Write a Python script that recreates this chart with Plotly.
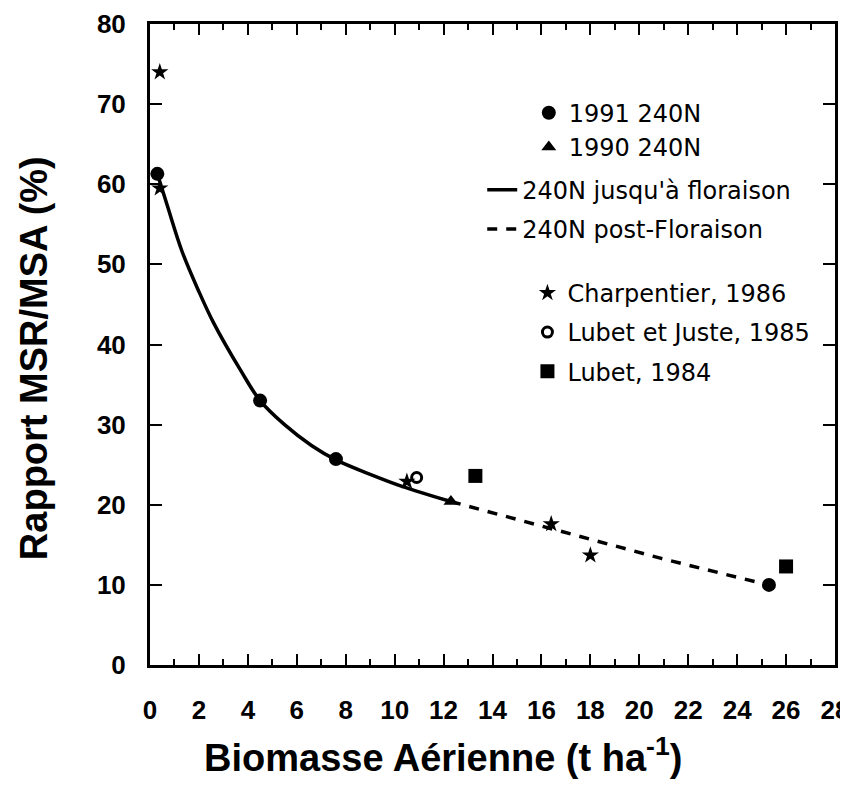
import plotly.graph_objects as go

# 1991 240N (circles)
x_1991 = [0.3, 4.5, 7.6, 25.3]
y_1991 = [61.3, 33.0, 25.7, 10.0]
# 1990 240N (triangles)
x_1990 = [12.3]
y_1990 = [20.4]
# 240N up to flowering (solid curve)
x_pre = [0.3, 0.7, 1.3, 2.0, 2.6, 3.7, 4.5, 5.5, 6.6, 7.6, 9.0, 10.3, 12.3]
y_pre = [61.3, 57.4, 51.7, 46.6, 42.7, 36.8, 33.0, 30.0, 27.4, 25.6, 23.8, 22.3, 20.4]
# 240N post-flowering (dashed)
x_post = [12.3, 14.5, 17.1, 20.9, 24.2, 25.3]
y_post = [20.4, 18.6, 16.5, 13.3, 10.8, 10.0]
# literature
x_charp = [0.4, 0.4, 10.5, 16.4, 18.0]
y_charp = [74.0, 59.5, 22.9, 17.6, 13.7]
x_lj = [10.9]
y_lj = [23.4]
x_lubet = [13.3, 26.0]
y_lubet = [23.6, 12.3]

fig = go.Figure()

fig.add_trace(go.Scatter(x=x_pre, y=y_pre, mode='lines', line=dict(color='black', width=3.5, shape='spline'),
                         name="240N jusqu'à floraison", legend='legend2', legendgroup='c'))
fig.add_trace(go.Scatter(x=x_post, y=y_post, mode='lines', line=dict(color='black', width=3.5, dash='10px,9px'),
                         name='240N post-Floraison', legend='legend2', legendgroup='d'))
fig.add_trace(go.Scatter(x=x_1991, y=y_1991, mode='markers', marker=dict(symbol='circle', size=14, color='black'),
                         name='1991 240N', legend='legend', legendgroup='a'))
fig.add_trace(go.Scatter(x=x_1990, y=y_1990, mode='markers', marker=dict(symbol='triangle-up', size=13, color='black'),
                         name='1990 240N', legend='legend', legendgroup='b'))
fig.add_trace(go.Scatter(x=x_charp, y=y_charp, mode='markers', marker=dict(symbol='star', size=13, color='black'),
                         name='Charpentier, 1986', legend='legend3', legendgroup='e'))
fig.add_trace(go.Scatter(x=x_lj, y=y_lj, mode='markers',
                         marker=dict(symbol='circle-open', size=10, color='black', line=dict(width=3)),
                         name='Lubet et Juste, 1985', legend='legend3', legendgroup='f'))
fig.add_trace(go.Scatter(x=x_lubet, y=y_lubet, mode='markers', marker=dict(symbol='square', size=14, color='black'),
                         name='Lubet, 1984', legend='legend3', legendgroup='g'))

legend_font = dict(family='DejaVu Sans', size=24, color='black')
leg_common = dict(font=legend_font, bgcolor='rgba(0,0,0,0)', xanchor='left', yanchor='top')

fig.update_layout(
    width=848, height=792,
    margin=dict(l=142, r=21, t=16, b=135),
    plot_bgcolor='white', paper_bgcolor='white',
    font=dict(family='Liberation Sans', color='black'),
    legend=dict(x=0.553, y=0.896, tracegroupgap=0, **leg_common),
    legend2=dict(x=0.485, y=0.776, tracegroupgap=5, **leg_common),
    legend3=dict(x=0.551, y=0.615, tracegroupgap=5, **leg_common),
    annotations=[
        dict(text='Biomasse Aérienne (t ha<sup>-1</sup>)', xref='paper', yref='paper',
             x=0.428, y=-0.141, xanchor='center', yanchor='middle', showarrow=False,
             font=dict(family='Liberation Sans', size=38, weight='bold', color='black')),
        dict(text='Rapport MSR/MSA (%)', xref='paper', yref='paper', textangle=-90,
             x=-0.17, y=0.478, xanchor='center', yanchor='middle', showarrow=False,
             font=dict(family='Liberation Sans', size=38, weight='bold', color='black')),
    ],
)

fig.update_xaxes(
    range=[0, 28], dtick=2, tick0=0, automargin=False, ticklabeloverflow='allow',
    ticks='inside', ticklen=11, tickwidth=2, tickcolor='black',
    minor=dict(dtick=1, ticks='inside', ticklen=6, tickwidth=2, tickcolor='black'),
    showline=True, linecolor='black', linewidth=3, mirror='allticks',
    showgrid=False, zeroline=False,
    ticklabelstandoff=20,
    tickfont=dict(family='Liberation Sans', size=26, weight='bold'),
)
fig.update_yaxes(
    range=[0, 80], dtick=10, tick0=0, automargin=False, ticklabeloverflow='allow',
    ticks='inside', ticklen=12, tickwidth=2, tickcolor='black',
    showline=True, linecolor='black', linewidth=3, mirror='allticks',
    showgrid=False, zeroline=False,
    ticklabelstandoff=16,
    tickfont=dict(family='Liberation Sans', size=26, weight='bold'),
)

fig.write_html('out.html')
